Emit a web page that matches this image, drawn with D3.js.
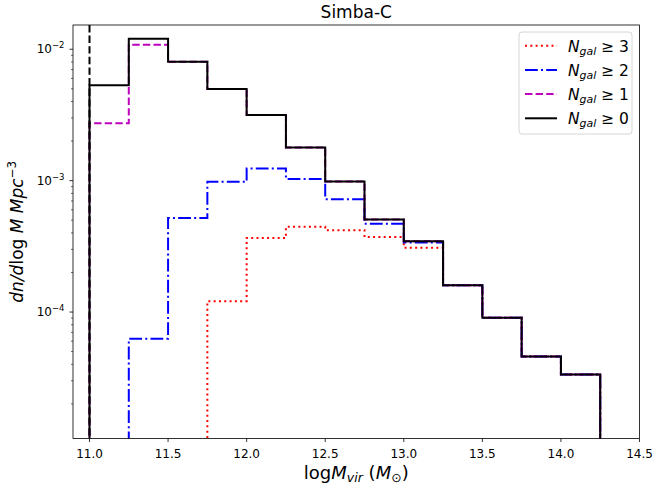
<!DOCTYPE html>
<html><head><meta charset="utf-8">
<script src="https://cdn.jsdelivr.net/npm/d3@7"></script>
<style>body{margin:0;background:#fff}svg{display:block;font-family:"DejaVu Sans",sans-serif}</style>
</head><body><svg id="c" width="654" height="489"></svg>
<script>
// ---- data ----
const binEdges = [11.0, 11.25, 11.5, 11.75, 12.0, 12.25, 12.5, 12.75, 13.0, 13.25, 13.5, 13.75, 14.0, 14.25];
const nGal0 = [5.32e-3, 1.20e-2, 8.04e-3, 4.98e-3, 3.16e-3, 1.79e-3, 9.86e-4, 5.06e-4, 3.46e-4, 1.60e-4, 9.06e-5, 4.59e-5, 3.35e-5];
const nGal1 = [2.73e-3, 1.08e-2, 8.04e-3, 4.98e-3, 3.16e-3, 1.79e-3, 9.86e-4, 5.06e-4, 3.46e-4, 1.60e-4, 9.06e-5, 4.59e-5, 3.35e-5];
const nGal2 = [0, 6.27e-5, 5.20e-4, 9.80e-4, 1.24e-3, 1.03e-3, 7.22e-4, 4.69e-4, 3.38e-4, 1.60e-4, 9.06e-5, 4.59e-5, 3.35e-5];
const nGal3 = [0, 0, 0, 1.21e-4, 3.66e-4, 4.45e-4, 4.20e-4, 3.73e-4, 3.08e-4, 1.60e-4, 9.06e-5, 4.59e-5, 3.35e-5];
const legendLabels = ["3", "2", "1", "0"];
const xTicks = [11.0, 11.5, 12.0, 12.5, 13.0, 13.5, 14.0, 14.5];
const yMajorExp = [-4, -3, -2];
const cutLine = 11.0;
const titleText = "Simba-C";

// ---- layout ----
const L = 73, R = 639.5, T = 25, B = 438.5;
const svg = d3.select("#c");
const x = d3.scaleLinear().domain([10.895, 14.5]).range([L, R]);
const y = d3.scaleLog().domain([1.090e-5, 0.01530]).range([B, T]);

svg.append("defs").append("clipPath").attr("id", "clip")
  .append("rect").attr("x", L).attr("y", T).attr("width", R - L).attr("height", B - T);

const series = [
  {vals: nGal3, color: "#ff0000", dash: "2,3.3"},
  {vals: nGal2, color: "#0000ff", dash: "12.8,3.2,2,3.2"},
  {vals: nGal1, color: "#bf00bf", dash: "7.4,3.2"},
  {vals: nGal0, color: "#000000", dash: null}
];

const yy = v => v > 0 ? y(v) : B + 30;
const line = d3.line().x(d => x(d[0])).y(d => yy(d[1]));

const g = svg.append("g").attr("clip-path", "url(#clip)");
series.forEach(s => {
  const pts = [[binEdges[0], 0]];
  s.vals.forEach((v, i) => { pts.push([binEdges[i], v]); pts.push([binEdges[i + 1], v]); });
  pts.push([binEdges[binEdges.length - 1], 0]);
  const p = g.append("path").attr("d", line(pts)).attr("fill", "none")
    .attr("stroke", s.color).attr("stroke-width", 2).attr("stroke-linejoin", "miter");
  if (s.dash) p.attr("stroke-dasharray", s.dash);
});
// vertical dashed cut line
g.append("line").attr("x1", x(cutLine)).attr("x2", x(cutLine)).attr("y1", T).attr("y2", B)
  .attr("stroke", "#000").attr("stroke-width", 2).attr("stroke-dasharray", "7.4,3.2");

// frame
svg.append("rect").attr("x", L).attr("y", T).attr("width", R - L).attr("height", B - T)
  .attr("fill", "none").attr("stroke", "#000").attr("stroke-width", 0.8);

// x ticks
xTicks.forEach(t => {
  svg.append("line").attr("x1", x(t)).attr("x2", x(t)).attr("y1", B).attr("y2", B + 3.5)
    .attr("stroke", "#000").attr("stroke-width", 0.8);
  svg.append("text").attr("x", x(t)).attr("y", 458).attr("text-anchor", "middle")
    .attr("font-size", 12).text(t.toFixed(1));
});

// y ticks
const [ylo, yhi] = y.domain();
for (let e = -6; e <= 0; e++) {
  for (let m = 1; m <= 9; m++) {
    const v = m * Math.pow(10, e);
    if (v < ylo || v > yhi) continue;
    const major = m === 1;
    svg.append("line").attr("x1", L).attr("x2", L - (major ? 3.5 : 2)).attr("y1", y(v)).attr("y2", y(v))
      .attr("stroke", "#000").attr("stroke-width", major ? 0.8 : 0.6);
  }
}
yMajorExp.forEach(e => {
  const t = svg.append("text").attr("x", 64.5).attr("y", y(Math.pow(10, e)) + 4.2)
    .attr("text-anchor", "end").attr("font-size", 12);
  t.append("tspan").text("10");
  t.append("tspan").attr("font-size", 8.5).attr("dy", -5).text("\u2212" + Math.abs(e));
});

// title
svg.append("text").attr("x", (L + R) / 2).attr("y", 18.3).attr("text-anchor", "middle")
  .attr("font-size", 17).text(titleText);

// x label
const xl = svg.append("text").attr("x", (L + R) / 2).attr("y", 479).attr("text-anchor", "middle").attr("font-size", 18);
xl.append("tspan").text("log");
xl.append("tspan").attr("font-style", "italic").text("M");
xl.append("tspan").attr("font-style", "italic").attr("font-size", 12.6).attr("dy", 3).text("vir");
xl.append("tspan").attr("dy", -3).text(" (");
xl.append("tspan").attr("font-style", "italic").text("M");
xl.append("tspan").attr("font-size", 12.6).attr("dy", 3).text("\u2299");
xl.append("tspan").attr("dy", -3).text(")");

// y label
const yl = svg.append("text").attr("transform", `translate(23,${(T + B) / 2}) rotate(-90)`)
  .attr("text-anchor", "middle").attr("font-size", 17);
yl.append("tspan").attr("font-style", "italic").text("dn/d");
yl.append("tspan").text("log ");
yl.append("tspan").attr("font-style", "italic").text("M Mpc");
yl.append("tspan").attr("font-size", 11.9).attr("dy", -7).text("\u22123");

// legend
const lg = svg.append("g");
lg.append("rect").attr("x", 519).attr("y", 32).attr("width", 113).attr("height", 102).attr("rx", 3)
  .attr("fill", "#fff").attr("fill-opacity", 0.8).attr("stroke", "#cccccc").attr("stroke-width", 0.8);
series.forEach((s, i) => {
  const cy = 45.7 + i * 24.2;
  const ln = lg.append("line").attr("x1", 525).attr("x2", 557).attr("y1", cy).attr("y2", cy)
    .attr("stroke", s.color).attr("stroke-width", 2);
  if (s.dash) ln.attr("stroke-dasharray", s.dash);
  const t = lg.append("text").attr("x", 568).attr("y", cy + 6).attr("font-size", 15.5);
  t.append("tspan").attr("font-style", "italic").text("N");
  t.append("tspan").attr("font-style", "italic").attr("font-size", 10.9).attr("dy", 3).text("gal");
  t.append("tspan").attr("dy", -3).text(" \u2265 " + legendLabels[i]);
});
</script></body></html>
